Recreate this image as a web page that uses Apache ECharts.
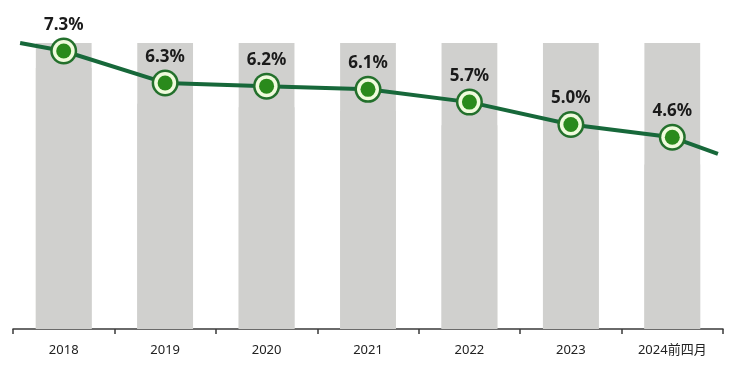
<!DOCTYPE html>
<html>
<head>
<meta charset="utf-8">
<script src="https://cdn.jsdelivr.net/npm/echarts@6/dist/echarts.min.js"></script>
<style>
  html, body { margin: 0; padding: 0; background: #fff; }
  #chart { width: 738px; height: 377px; }
</style>
</head>
<body>
<div id="chart"></div>
<script>
const years = ['2018', '2019', '2020', '2021', '2022', '2023', '2024前四月'];
const rates = [7.3, 6.3, 6.2, 6.1, 5.7, 5.0, 4.6];
// where the drawn line starts and ends beyond the first/last point
const tailX = [-0.43, 6.45];
const tailY = [7.55, 4.08];

const linePoints = [[tailX[0], tailY[0]]]
  .concat(rates.map((v, i) => [i, v]))
  .concat([[tailX[1], tailY[1]]]);

const chart = echarts.init(document.getElementById('chart'));

const option = {
  backgroundColor: '#ffffff',
  animation: false,
  grid: { left: 13, right: 15, top: 43, bottom: 48 },
  xAxis: [
    {
      type: 'category',
      data: years,
      axisLine: { lineStyle: { color: '#3a3a3a', width: 1.5 } },
      axisTick: { show: true, length: 5, lineStyle: { color: '#3a3a3a', width: 1.5 } },
      axisLabel: {
        color: '#222',
        fontSize: 13,
        margin: 15,
        fontFamily: 'Noto Sans, Noto Sans CJK SC, sans-serif'
      },
      splitLine: { show: false }
    },
    { type: 'value', min: -0.5, max: 6.5, show: false }
  ],
  yAxis: [
    { type: 'value', min: 0, max: 8, show: false },
    { type: 'value', min: -1.4, max: 7.55, show: false }
  ],
  series: [
    {
      type: 'bar',
      data: rates,
      barWidth: '55%',
      xAxisIndex: 0,
      yAxisIndex: 0,
      itemStyle: { color: '#d0d0ce' },
      showBackground: true,
      backgroundStyle: { color: '#d0d0ce' },
      silent: true
    },
    {
      type: 'line',
      data: linePoints,
      xAxisIndex: 1,
      yAxisIndex: 1,
      showSymbol: false,
      lineStyle: { color: '#17683a', width: 4 },
      silent: true
    },
    {
      type: 'scatter',
      data: rates,
      xAxisIndex: 0,
      yAxisIndex: 1,
      symbolSize: 27,
      itemStyle: { color: '#23702c', opacity: 1 },
      label: {
        show: true,
        position: 'top',
        distance: 4,
        formatter: p => p.value.toFixed(1) + '%',
        color: '#1a1a1a',
        fontSize: 17,
        fontWeight: 'bold',
        fontFamily: 'Noto Sans, sans-serif'
      },
      z: 3
    },
    {
      type: 'scatter',
      data: rates,
      xAxisIndex: 0,
      yAxisIndex: 1,
      symbolSize: 22,
      itemStyle: { color: '#effbdc', opacity: 1 },
      z: 4
    },
    {
      type: 'scatter',
      data: rates,
      xAxisIndex: 0,
      yAxisIndex: 1,
      symbolSize: 15,
      itemStyle: { color: '#2a8a1c', opacity: 1 },
      z: 5
    }
  ]
};

chart.setOption(option);
</script>
</body>
</html>
